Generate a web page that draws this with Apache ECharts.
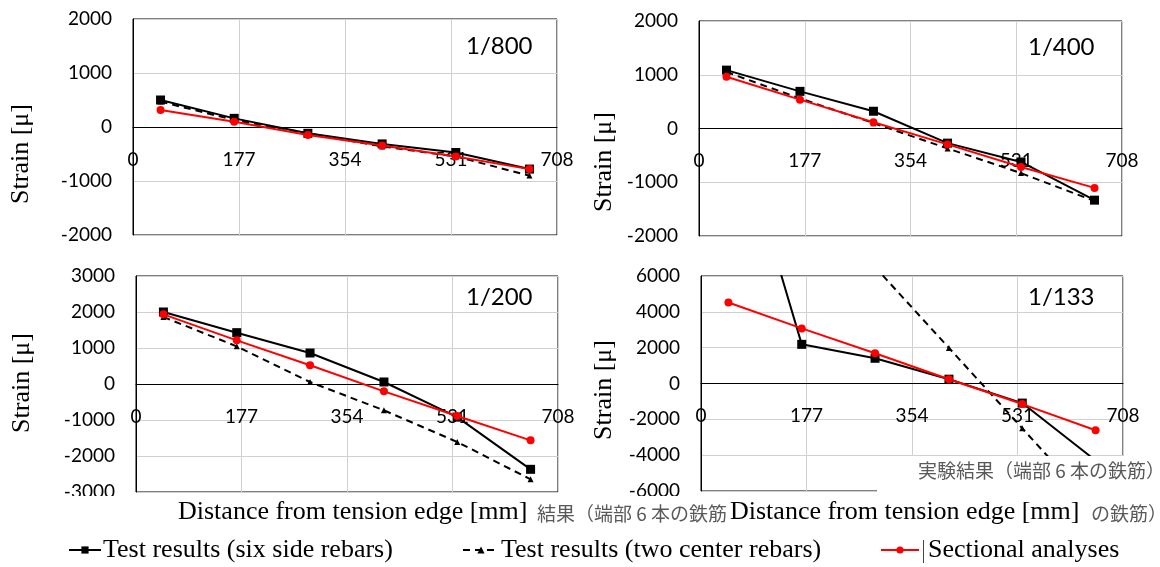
<!DOCTYPE html>
<html>
<head>
<meta charset="utf-8">
<script src="https://cdn.jsdelivr.net/npm/echarts@6/dist/echarts.min.js"></script>
<style>
html,body{margin:0;padding:0;background:#fff;}
#c{width:1160px;height:567px;}
</style>
</head>
<body>
<div id="c"></div>
<script>
// ---- data ----
const positions = [46, 169, 292, 416, 539, 662];
const xTicks = [0, 177, 354, 531, 708];
const seriesNames = ['Test results (six side rebars)', 'Test results (two center rebars)', 'Sectional analyses'];
const panelTitles = ['1/800', '1/400', '1/200', '1/133'];

const six_800 = [500, 160, -117, -313, -472, -779];
const center_800 = [470, 130, -117, -360, -546, -900];
const anal_800 = [313, 98, -147, -344, -546, -780];

const six_400 = [1086, 691, 321, -272, -623, -1333];
const center_400 = [1050, 560, 100, -370, -830, -1350];
const anal_400 = [963, 537, 117, -296, -716, -1105];

const six_200 = [2000, 1426, 861, 56, -920, -2370];
const center_200 = [1861, 1046, 55, -731, -1611, -2648];
const anal_200 = [1935, 1213, 519, -204, -889, -1565];

const six_133 = [16000, 2185, 1407, 241, -1093, -4300];
const center_133 = [15400, 10900, 6500, 1985, -2500, -7000];
const anal_133 = [4519, 3074, 1685, 241, -1148, -2611];

const yRanges = [[-2000, 2000, 1000], [-2000, 2000, 1000], [-3000, 3000, 1000], [-6000, 6000, 2000]];
const panels = [
  [six_800, center_800, anal_800],
  [six_400, center_400, anal_400],
  [six_200, center_200, anal_200],
  [six_133, center_133, anal_133]
];

// ---- layout ----
const grids = [
  {left: 133, top: 19, width: 424, height: 216},
  {left: 699, top: 21, width: 423, height: 215},
  {left: 136, top: 276, width: 422, height: 216},
  {left: 701, top: 276, width: 422, height: 215}
];

const tickFont = 'Lato';
const serif = '"Liberation Serif", "Times New Roman", serif';
const plain = v => String(v);

const option = {
  animation: false,
  backgroundColor: '#fff',
  grid: grids.map(g => Object.assign({show: true, borderColor: '#000', borderWidth: 1, backgroundColor: 'transparent', containLabel: false}, g)),
  xAxis: grids.map((g, i) => ({
    type: 'value', gridIndex: i, min: xTicks[0], max: xTicks[xTicks.length - 1], interval: xTicks[1] - xTicks[0],
    position: 'bottom',
    // move axis (line + labels) up to the y = 0 level
    offset: -g.height * (0 - yRanges[i][0]) / (yRanges[i][1] - yRanges[i][0]),
    axisLine: {show: true, onZero: false, lineStyle: {color: '#000', width: 1}},
    axisTick: {show: false},
    splitLine: {show: true, lineStyle: {color: '#d0d0d0', width: 1}},
    axisLabel: {show: true, color: '#000', fontFamily: tickFont, fontSize: 19, margin: 23, showMinLabel: true, showMaxLabel: true, hideOverlap: false, formatter: plain}
  })),
  yAxis: grids.map((g, i) => ({
    type: 'value', gridIndex: i, min: yRanges[i][0], max: yRanges[i][1], interval: yRanges[i][2],
    axisLine: {show: true, onZero: false, lineStyle: {color: '#000', width: 1}},
    axisTick: {show: false},
    splitLine: {show: true, lineStyle: {color: '#d0d0d0', width: 1}},
    axisLabel: {show: true, color: '#000', fontFamily: tickFont, fontSize: 19, margin: 21, showMinLabel: true, showMaxLabel: true, formatter: plain}
  })),
  legend: [
    {left: 68, top: 537, itemWidth: 32, data: [seriesNames[0]]},
    {left: 462, top: 537, itemWidth: 36, data: [seriesNames[1]]},
    {left: 880, top: 537, itemWidth: 38, data: [seriesNames[2]], textStyle: {fontFamily: serif, fontSize: 26, color: '#000', padding: [0, 0, 0, 4]}}
  ].map(l => Object.assign({
    itemHeight: 9, itemGap: 10, padding: 0,
    textStyle: {fontFamily: serif, fontSize: 26, color: '#000', padding: [0, 0, 0, -3]}
  }, l)),
  series: [],
  graphic: []
};

panels.forEach((p, i) => {
  const mk = arr => arr.map((v, k) => [positions[k], v]);
  option.series.push({
    name: seriesNames[0], type: 'line', xAxisIndex: i, yAxisIndex: i, data: mk(p[0]), clip: true,
    symbol: 'rect', symbolSize: 9, itemStyle: {color: '#000'},
    lineStyle: {color: '#000', width: 2}, z: 3
  });
  option.series.push({
    name: seriesNames[1], type: 'line', xAxisIndex: i, yAxisIndex: i, data: mk(p[1]), clip: true,
    symbol: 'triangle', symbolSize: 6, itemStyle: {color: '#000'},
    lineStyle: {color: '#000', width: 2, type: [7, 5]}, z: 2
  });
  option.series.push({
    name: seriesNames[2], type: 'line', xAxisIndex: i, yAxisIndex: i, data: mk(p[2]), clip: true,
    symbol: 'circle', symbolSize: 8, itemStyle: {color: '#ff0000'},
    lineStyle: {color: '#ff0000', width: 2}, z: 4
  });
});

const G = option.graphic;
// panel titles
const titlePos = [[466, 46], [1028, 47], [466, 297], [1028, 297]];
panelTitles.forEach((t, i) => {
  G.push({type: 'text', x: titlePos[i][0], y: titlePos[i][1], z: 60,
    style: {text: t, fontFamily: tickFont, fontSize: 24, fill: '#000', textAlign: 'left', textVerticalAlign: 'middle'}});
});
// y axis names
const strainPos = [[21, 154], [604, 162], [22, 383], [604, 390]];
strainPos.forEach(p => {
  G.push({type: 'text', x: p[0], y: p[1], rotation: Math.PI / 2, z: 60,
    style: {text: 'Strain [μ]', fontFamily: serif, fontSize: 26, fill: '#000', textAlign: 'center', textVerticalAlign: 'middle'}});
});
// white masks
G.push({type: 'rect', shape: {x: 877, y: 456, width: 290, height: 40}, style: {fill: '#fff'}, z: 50});
G.push({type: 'rect', shape: {x: 0, y: 496, width: 1160, height: 40}, style: {fill: '#fff'}, z: 50});
// japanese text
const jp = '"Noto Sans CJK JP"';
G.push({type: 'text', x: 918, y: 471, z: 60,
  style: {text: '実験結果（端部 6 本の鉄筋）', fontFamily: jp, fontSize: 19, fill: '#595959', textAlign: 'left', textVerticalAlign: 'middle'}});
G.push({type: 'text', x: 537, y: 514, z: 60,
  style: {text: '結果（端部 6 本の鉄筋', fontFamily: jp, fontSize: 19, fill: '#595959', textAlign: 'left', textVerticalAlign: 'middle'}});
G.push({type: 'text', x: 1091, y: 514, z: 60,
  style: {text: 'の鉄筋）', fontFamily: jp, fontSize: 19, fill: '#595959', textAlign: 'left', textVerticalAlign: 'middle'}});
// x axis names
[[178, 512], [730, 512]].forEach(p => {
  G.push({type: 'text', x: p[0], y: p[1], z: 61,
    style: {text: 'Distance from tension edge [mm]', fontFamily: serif, fontSize: 26, fill: '#000', textAlign: 'left', textVerticalAlign: 'middle'}});
});
// cursor mark before last legend text
G.push({type: 'line', shape: {x1: 923.5, y1: 540, x2: 923.5, y2: 563}, style: {stroke: '#444', lineWidth: 1}, z: 60});

const chart = echarts.init(document.getElementById('c'), null, {renderer: 'canvas'});
chart.setOption(option);
</script>
</body>
</html>
